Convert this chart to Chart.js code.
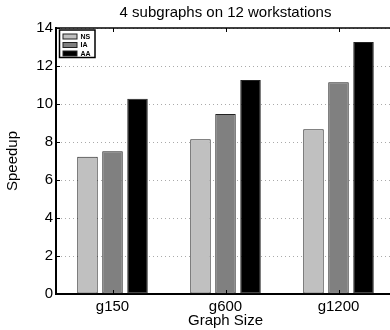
<!DOCTYPE html>
<html>
<head>
<meta charset="utf-8">
<script src="https://cdn.jsdelivr.net/npm/chart.js@4/dist/chart.umd.min.js"></script>
<style>
  html, body { margin: 0; padding: 0; background: #fff; overflow: hidden; width: 390px; height: 330px; }
  #myChart { display: block; }
</style>
</head>
<body>
<canvas id="myChart" width="390" height="330"></canvas>
<script>
var categories = ["g150", "g600", "g1200"];
var seriesNames = ["NS", "IA", "AA"];
var nsValues = [7.23, 8.14, 8.67];
var iaValues = [7.51, 9.47, 11.14];
var aaValues = [10.28, 11.26, 13.26];
var yTicks = [0, 2, 4, 6, 8, 10, 12, 14];
var barColors = ["#c0c0c0", "#808080", "#000000"];
var titleText = "4 subgraphs on 12 workstations";

var fontName = "'Liberation Sans', Arial, Helvetica, sans-serif";
Chart.defaults.font.family = fontName;
Chart.defaults.color = "#000";

// the original plot is cut off on the right, so push the plot area past the canvas edge
var overflowRight = 5;
var cropPlugin = {
  id: "crop",
  afterLayout: function (chart) {
    var a = chart.chartArea;
    var xs = chart.scales.x;
    a.right = chart.width + overflowRight;
    a.width = a.right - a.left;
    xs.right = a.right;
    xs.width = a.right - xs.left;
    xs.configure();
  }
};

// top frame, tick marks, title and legend in the matlab style
var framePlugin = {
  id: "frame",
  afterDraw: function (chart) {
    var ctx = chart.ctx;
    var a = chart.chartArea;
    var xs = chart.scales.x;
    var ys = chart.scales.y;
    ctx.save();
    ctx.strokeStyle = "#000";
    ctx.lineWidth = 1.5;
    ctx.beginPath();
    ctx.moveTo(a.left, a.top);
    ctx.lineTo(a.right, a.top);
    ctx.stroke();

    ctx.lineWidth = 1;
    ctx.beginPath();
    for (var i = 0; i < categories.length; i++) {
      var px = Math.round(xs.getPixelForValue(i)) + 0.5;
      ctx.moveTo(px, a.top);
      ctx.lineTo(px, a.top + 4);
      ctx.moveTo(px, a.bottom);
      ctx.lineTo(px, a.bottom - 4);
    }
    for (var j = 0; j < yTicks.length; j++) {
      var py = Math.round(ys.getPixelForValue(yTicks[j])) + 0.5;
      ctx.moveTo(a.left, py);
      ctx.lineTo(a.left + 4, py);
    }
    ctx.stroke();

    // title over the plot area
    ctx.fillStyle = "#000";
    ctx.font = "15px " + fontName;
    ctx.textAlign = "center";
    ctx.textBaseline = "middle";
    ctx.fillText(titleText, (a.left + a.right) / 2, 13);

    // legend box
    var lx = a.left + 3.5, ly = a.top + 2;
    ctx.fillStyle = "#fff";
    ctx.fillRect(lx, ly, 35.5, 27.5);
    ctx.lineWidth = 1.5;
    ctx.strokeRect(lx, ly, 35.5, 27.5);
    ctx.font = "bold 7px " + fontName;
    ctx.textAlign = "left";
    chart.data.datasets.forEach(function (ds, k) {
      var sy = ly + 4 + k * 8.5;
      ctx.fillStyle = ds.backgroundColor;
      ctx.fillRect(lx + 3.5, sy, 14, 5);
      ctx.lineWidth = 1;
      ctx.strokeStyle = "#222";
      ctx.strokeRect(lx + 3.5, sy, 14, 5);
      ctx.fillStyle = "#000";
      ctx.fillText(ds.label, lx + 21, sy + 2.8);
    });
    ctx.restore();
  }
};

var chartContext = document.getElementById("myChart").getContext("2d");
var allValues = [nsValues, iaValues, aaValues];

var chart = new Chart(chartContext, {
  type: "bar",
  data: {
    labels: categories,
    datasets: seriesNames.map(function (name, i) {
      return {
        label: name,
        data: allValues[i],
        backgroundColor: barColors[i],
        borderColor: "#222",
        borderWidth: 1,
        borderSkipped: false,
        categoryPercentage: 0.664,
        barPercentage: 0.82
      };
    })
  },
  options: {
    responsive: false,
    animation: false,
    layout: { padding: { top: 28, right: 0, left: 0, bottom: 0 } },
    plugins: {
      legend: { display: false },
      title: { display: false },
      tooltip: { enabled: false }
    },
    scales: {
      x: {
        grid: { display: false, drawTicks: false },
        border: { display: true, color: "#000", width: 2 },
        ticks: { font: { size: 15 }, padding: 4, maxRotation: 0 },
        title: {
          display: true,
          text: "Graph Size",
          font: { size: 15 },
          padding: { top: -5, bottom: 0 }
        },
        afterFit: function (scale) { scale.height = 36; }
      },
      y: {
        min: 0,
        max: 14,
        afterBuildTicks: function (scale) {
          scale.ticks = yTicks.map(function (v) { return { value: v }; });
        },
        grid: { color: "#aaa", lineWidth: 1, drawTicks: false },
        border: { display: true, color: "#000", width: 2, dash: [1, 3] },
        ticks: { font: { size: 15 }, padding: 3 },
        title: {
          display: true,
          text: "Speedup",
          font: { size: 15 },
          padding: { top: 4, bottom: 0 }
        },
        afterFit: function (scale) { scale.width = 56; }
      }
    }
  },
  plugins: [cropPlugin, framePlugin]
});
</script>
</body>
</html>
